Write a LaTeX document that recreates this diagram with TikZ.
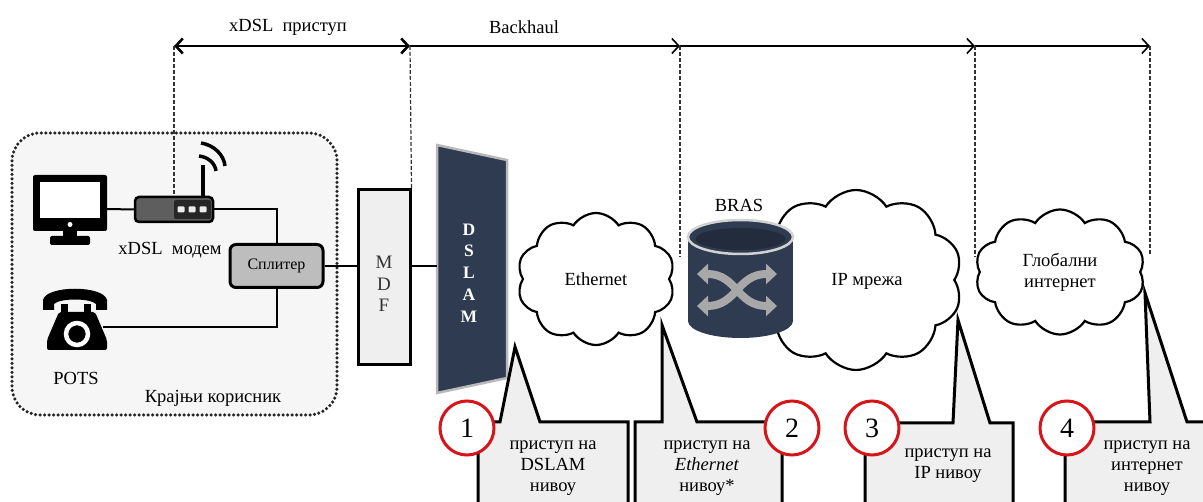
\documentclass[tikz,border=0pt]{standalone}
\usepackage{fontspec}
\setmainfont{Liberation Serif}
\usetikzlibrary{shapes.symbols,shapes.geometric,arrows.meta}
\definecolor{navy}{HTML}{2E3B50}
\definecolor{boxgray}{HTML}{EFEFEF}
\definecolor{usergray}{HTML}{F6F6F6}
\definecolor{splitgray}{HTML}{BDBDBD}
\definecolor{modemgray}{HTML}{5E5E5E}
\definecolor{ringred}{HTML}{D7141A}
\definecolor{arrowgray}{HTML}{A8A8A8}
\begin{document}
\begin{tikzpicture}[x=1pt,y=-1pt,
  font=\fontsize{18.5}{21}\selectfont,
  wire/.style={line width=2pt},
  dimline/.style={line width=1.6pt},
  guide/.style={line width=1.2pt, dash pattern=on 4pt off 2pt, black!80},
  callout/.style={fill=boxgray, draw=black, line width=3pt, line join=miter},
  numring/.style={circle, draw=ringred, line width=3pt, fill=white, minimum size=54pt, inner sep=0pt, font=\fontsize{28}{28}\selectfont},
  netcloud/.style={cloud, draw=black, fill=white, line width=2.2pt, cloud puffs=10, cloud puff arc=115, cloud ignores aspect, inner sep=0pt, align=center},
  ctext/.style={align=center, inner sep=0pt},
  plain/.style={inner sep=0pt},
  barb/.tip={Straight Barb[length=7pt,width=15pt]}
  ]
\clip (0,0) rectangle (1203,502);

% top dimension arrows
\coordinate (t1) at (174,46);
\coordinate (t2) at (410,46);
\coordinate (t3) at (680,46);
\coordinate (t4) at (975,46);
\coordinate (t5) at (1150,46);
\draw[line width=2.6pt, barb-barb] (t1) -- (t2);
\draw[dimline, -barb] (t2) -- (t3);
\draw[dimline, -barb] (t3) -- (t4);
\draw[dimline, -barb] (t4) -- (t5);
\node[plain] (lxdsl) at (288,27) {xDSL\ \ приступ};
\node[plain] (lback) at (524,27) {Backhaul};

% user premises box
\draw[fill=usergray, draw=black!85, line width=3.5pt, dash pattern=on 0pt off 4.5pt, line cap=round, rounded corners=28pt] (12,133) rectangle (337,415);

% monitor
\fill[black, rounded corners=2pt] (33,175) rectangle (107,231);
\fill[white] (40,182) rectangle (100,218);
\fill[white] (70,224.5) circle (2.5);
\fill[black] (63,229) rectangle (77,238);
\fill[black, rounded corners=2pt] (50,236) rectangle (90,245);
\coordinate (pc) at (107,209);

% modem
\node[draw=black, fill=modemgray, line width=2.5pt, rounded corners=4pt, minimum width=78pt, minimum height=25pt, inner sep=0pt] (modem) at (174,209.5) {};
\fill[black!85, rounded corners=2pt] (174,200) rectangle (211,219);
\foreach \x in {181,192,203} \fill[white!85!gray, rounded corners=1pt] (\x-3.5,206.5) rectangle (\x+3.5,212.5);
\draw[line width=4.5pt] (203,197) -- (203,165);
\draw[line width=3.5pt] (199,156) .. controls (208,157) and (215,163) .. (216,171);
\draw[line width=3.5pt] (201,143) .. controls (214,145) and (224,155) .. (225,166);
\node[plain] (lmodem) at (170,250) {xDSL\ \ модем};

% splitter
\node[draw=black, fill=splitgray, line width=3pt, rounded corners=6pt, minimum width=93pt, minimum height=43pt, inner sep=0pt, font=\fontsize{16}{18}\selectfont] (split) at (276.5,266) {Сплитер};

% phone
\fill (43,310) -- (43,300) .. controls (46,285) and (104,285) .. (107,300) -- (107,310) -- (96,310) -- (96,304) .. controls (90,298) and (60,298) .. (54,304) -- (54,310) -- cycle;
\fill (61,304) rectangle (68,314);
\fill (84,304) rectangle (91,314);
\fill[rounded corners=2pt] (59,312) -- (95,312) -- (107,340) -- (107,350) -- (47,350) -- (47,340) -- cycle;
\draw[white, line width=4.5pt] (77,334) circle (11);
\coordinate (phone) at (103,327);
\node[plain] (lpots) at (76,378) {POTS};
\node[plain] (luser) at (213,398) {Крајњи корисник};

% MDF
\node[draw=black, fill=boxgray, line width=3pt, minimum width=52pt, minimum height=175pt, inner sep=0pt] (mdf) at (384,277.5) {};
\node[ctext, text=black!80, font=\fontsize{19}{21.5}\selectfont] (lmdf) at (384,284) {M\\D\\F};

% DSLAM
\filldraw[fill=navy, draw=gray!55, line width=2.5pt] (437,145) -- (507,160) -- (507,378) -- (437,393) -- cycle;
\coordinate (dslamin) at (437,266);
\node[ctext, text=white, font=\bfseries\fontsize{17.5}{21.75}\selectfont] (ldslam) at (469,273) {D\\S\\L\\A\\M};

% wires
\draw[wire] (pc) -- (modem.west);
\draw[wire] (modem.east) -| (split.north);
\draw[wire] (split.south) |- (phone);
\draw[wire] (split.east) -- (split.east -| mdf.west);
\draw[wire] (split.east -| mdf.east) -- (dslamin);

% clouds
\node[netcloud, minimum width=158pt, minimum height=132pt] (eth) at (596,279) {Ethernet};
\node[netcloud, minimum width=213pt, minimum height=180pt] (ip) at (856,280) {};
\node[plain] (lip) at (867,281) {IP мрежа};
\node[netcloud, minimum width=170pt, minimum height=125pt] (glob) at (1060,272) {Глобални\\интернет};

% BRAS
\fill[navy] (688,237) rectangle (793,321);
\fill[navy] (740.5,321) ellipse (52.5 and 17);
\draw[gray!35, line width=2.5pt, fill=navy] (740.5,237) ellipse (52.5 and 17);
\fill[navy!75!black] (740.5,239) ellipse (45 and 11);
\draw[arrowgray, line width=8pt, {Triangle[length=11pt,width=20pt]}-{Triangle[length=11pt,width=20pt]}] (697,274) .. controls (737,274) and (737,306) .. (777,306);
\draw[arrowgray, line width=8pt, {Triangle[length=11pt,width=20pt]}-{Triangle[length=11pt,width=20pt]}] (697,306) .. controls (737,306) and (737,274) .. (777,274);
\node[plain] (lbras) at (739,205) {BRAS};

% guides
\coordinate (g3) at (680,257);
\coordinate (g4) at (975,257);
\coordinate (g5) at (1150,254);
\draw[guide] (t1) -- (modem.north);
\draw[guide] (t2) -- (mdf.north east);
\draw[guide] (t3) -- (g3);
\draw[guide] (t4) -- (g4);
\draw[guide] (t5) -- (g5);

% callouts
\draw[callout] (478,515) -- (478,422) -- (500,422) -- (515,347) -- (540,422) -- (628,422) -- (628,515);
\draw[callout] (635,515) -- (635,422) -- (662,422) -- (662,325) -- (697,422) -- (782,422) -- (782,515);
\draw[callout] (865,515) -- (865,423) -- (953,423) -- (958,320) -- (990,423) -- (1013,423) -- (1013,515);
\draw[callout] (1065,515) -- (1065,422) -- (1150,422) -- (1145,293) -- (1187,422) -- (1215,422) -- (1215,515);
\node[ctext] (c1t) at (553,468) {приступ на\\DSLAM\\нивоу};
\node[ctext] (c2t) at (707,468) {приступ на\\\textit{Ethernet}\\нивоу*};
\node[ctext] (c3t) at (948,466) {приступ на\\IP нивоу};
\node[ctext] (c4t) at (1147,468) {приступ на\\интернет\\нивоу};
\node[numring] (n1) at (467,428) {1};
\node[numring] (n2) at (792,428) {2};
\node[numring] (n3) at (872,428) {3};
\node[numring] (n4) at (1067,428) {4};
\end{tikzpicture}
\end{document}
